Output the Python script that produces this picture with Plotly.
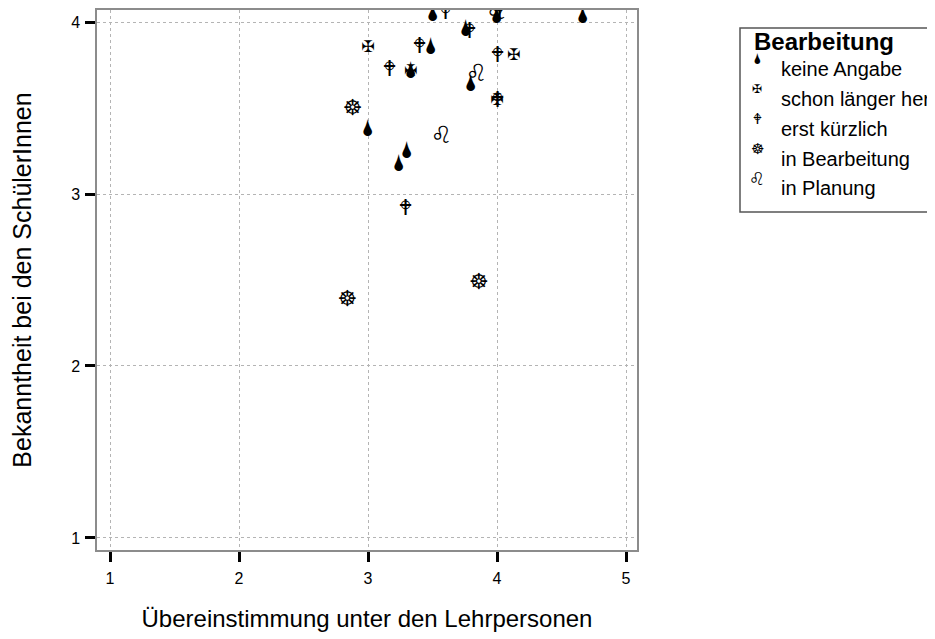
import plotly.graph_objects as go

# Data: Übereinstimmung (x) vs Bekanntheit (y), grouped by Bearbeitung
categories = ["keine Angabe", "schon länger her", "erst kürzlich", "in Bearbeitung", "in Planung"]
glyphs = ["\U0001F322", "\u2720\uFE0E", "\U0001F548", "\u2638\uFE0E", "\u264C\uFE0E"]

keine_x = [3.50, 4.67, 4.00, 3.76, 3.49, 3.33, 3.80, 3.00, 3.30, 3.24]
keine_y = [4.04, 4.03, 4.03, 3.95, 3.85, 3.71, 3.63, 3.37, 3.24, 3.17]

laenger_x = [3.00, 4.13, 3.33, 4.00]
laenger_y = [3.85, 3.80, 3.71, 3.54]

kuerzlich_x = [3.60, 4.02, 3.79, 3.40, 4.00, 3.17, 4.00, 3.29]
kuerzlich_y = [4.05, 4.06, 3.94, 3.85, 3.80, 3.72, 3.54, 2.91]

bearb_x = [2.88, 2.84, 3.86]
bearb_y = [3.49, 2.38, 2.48]

planung_x = [4.00, 3.84, 3.57]
planung_y = [4.05, 3.69, 3.33]

series_x = [keine_x, laenger_x, kuerzlich_x, bearb_x, planung_x]
series_y = [keine_y, laenger_y, kuerzlich_y, bearb_y, planung_y]

x_ticks = [1, 2, 3, 4, 5]
y_ticks = [1, 2, 3, 4]

# styling (glyph font sizes per group: plot, legend)
plot_sizes = [23, 16, 22, 22, 24]
legend_sizes = [15, 12, 15, 15, 18]

FONT = "Liberation Sans, Arial, sans-serif"
SYMFONT = "DejaVu Sans, Noto Sans, sans-serif"

fig = go.Figure()
for name, g, xs, ys, fs in zip(categories, glyphs, series_x, series_y, plot_sizes):
    fig.add_trace(go.Scatter(
        x=xs, y=ys, mode="text", text=[g] * len(xs), name=name,
        textposition="middle center", cliponaxis=False,
        textfont=dict(family=SYMFONT, size=fs, color="black"),
        showlegend=False, hoverinfo="x+y+name",
    ))

# Manual legend (pixel positions converted to paper coords of the 540x540 plot area at 97,10)
L, R, T, B = 740, 960, 28, 212
def px2paper_x(px):
    return (px - 97) / 540
def px2paper_y(py):
    return (550 - py) / 540

fig.add_shape(type="rect", xref="paper", yref="paper",
              x0=px2paper_x(L), x1=px2paper_x(R), y0=px2paper_y(B), y1=px2paper_y(T),
              line=dict(color="#555555", width=1.5), fillcolor="white", layer="below")
fig.add_annotation(xref="paper", yref="paper", x=px2paper_x(752), y=px2paper_y(41),
                   text="<b>Bearbeitung</b>", showarrow=False, xanchor="left", yanchor="middle",
                   font=dict(family=FONT, size=24, color="black"))
rows = [69, 99, 129, 159, 188]
for name, g, ry, ls in zip(categories, glyphs, rows, legend_sizes):
    fig.add_annotation(xref="paper", yref="paper", x=px2paper_x(757), y=px2paper_y(ry - 10),
                       text=g, showarrow=False, xanchor="center", yanchor="middle",
                       font=dict(family=SYMFONT, size=ls, color="black"))
    fig.add_annotation(xref="paper", yref="paper", x=px2paper_x(779), y=px2paper_y(ry),
                       text=name, showarrow=False, xanchor="left", yanchor="middle",
                       font=dict(family=FONT, size=20, color="black"))

axis_common = dict(
    showline=True, mirror=True, linecolor="#8c8c8c", linewidth=1.5,
    ticks="outside", ticklen=10, tickwidth=3, tickcolor="black",
    showgrid=True, gridcolor="#b4b4b4", griddash="dot", gridwidth=1,
    zeroline=False, tickfont=dict(family=FONT, size=16, color="black"),
    automargin=False,
)
fig.update_xaxes(range=[0.899, 5.085], tickvals=x_ticks, ticklabelstandoff=3, **axis_common,
                 title=dict(text="Übereinstimmung unter den Lehrpersonen",
                            font=dict(family=FONT, size=24, color="black"), standoff=24))
fig.update_yaxes(range=[0.93, 4.07], tickvals=y_ticks, ticklabelstandoff=2, **axis_common,
                 title=dict(text="Bekanntheit bei den SchülerInnen",
                            font=dict(family=FONT, size=25, color="black"), standoff=34))

fig.update_layout(
    width=935, height=639,
    margin=dict(l=89, r=306, t=2, b=97),
    plot_bgcolor="white", paper_bgcolor="white",
    font=dict(family=FONT, color="black"),
)
fig.write_html("out.html")
